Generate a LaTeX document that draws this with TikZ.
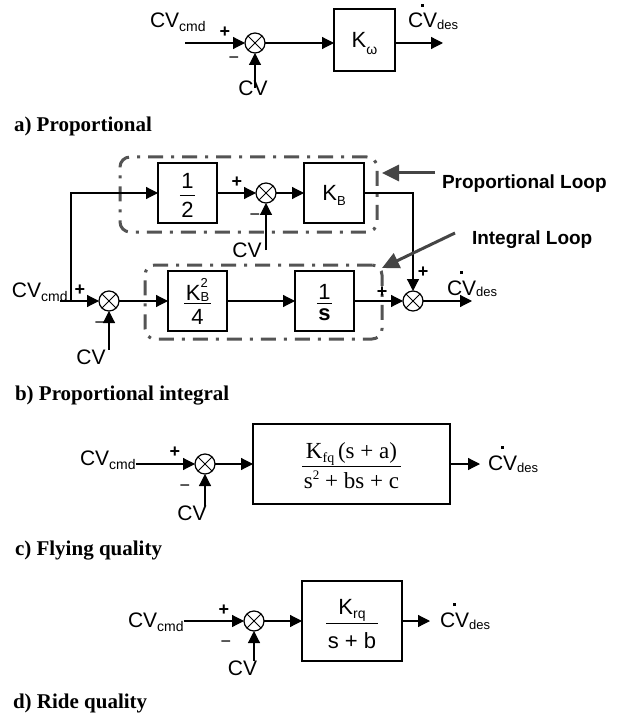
\documentclass[tikz,border=0pt]{standalone}
\usepackage{fontspec}
\setmainfont{Liberation Sans}
\newfontfamily\tserif{Liberation Serif}
\usetikzlibrary{arrows.meta,calc}
\definecolor{loopgray}{gray}{0.33}
\definecolor{notegray}{gray}{0.27}
\newcommand\fs[1]{\fontsize{#1}{#1}\selectfont}
\newcommand\subt[3]{\raisebox{-#1}[0pt][0pt]{\fs{#2}#3}}
\newcommand\cvdot{\setbox0\hbox{CV}\rlap{\hbox to\wd0{\hss\raisebox{21pt}[0pt][0pt]{\rule{2.8pt}{2.8pt}}\hss}}\box0}
\newcommand\fr[4]{\begingroup
 \setbox0\hbox{#3}\setbox2\hbox{#4}%
 \dimen0=\wd0 \ifdim\wd2>\dimen0 \dimen0=\wd2 \fi
 \advance\dimen0 by 3pt
 \dp0=0pt
 \dimen2=\dimexpr\ht0+#1+0.6pt\relax
 \dimen4=\dimexpr\ht2+\dp2+#2+0.6pt\relax
 \dimen6=\dimen2 \ifdim\dimen4>\dimen6 \dimen6=\dimen4 \fi
 \advance\dimen6 by 4pt
 \vbox{\kern\dimexpr\dimen6-\dimen2+2.5pt\relax
  \hbox to\dimen0{\hss\box0\hss}\kern#1\relax\hrule height 1.2pt\kern#2\relax
  \hbox to\dimen0{\hss\box2\hss}\kern\dimexpr\dimen6-\dimen4-2.5pt\relax}%
 \endgroup}
\begin{document}
\begin{tikzpicture}[x=1pt,y=-1pt,
 every node/.style={inner sep=0pt,outer sep=0pt},
 lbl/.style={font=\fs{21}},
 arr/.style={line width=1.2pt,-{Triangle[length=12pt,width=12pt]}},
 sumn/.style={circle,draw,line width=1.2pt,minimum size=20pt,
   path picture={\draw[line width=1pt] (path picture bounding box.south west) -- (path picture bounding box.north east) (path picture bounding box.north west) -- (path picture bounding box.south east);}},
 blk/.style={draw,line width=1.3pt,font=\fs{22}},
 loopbox/.style={draw=loopgray,line width=3pt,rounded corners=10pt,dash pattern=on 15pt off 8pt on 3pt off 8pt},
 note/.style={draw=notegray,line width=3pt,-{Triangle[length=17pt,width=16pt]}},
 plus/.style={font=\fs{18}\bfseries},
 minus/.style={font=\fs{18}},
 title/.style={anchor=base west,font=\tserif\bfseries\fs{21}},
 notetxt/.style={anchor=west,font=\bfseries\fs{19}}]
\path[fill=white,use as bounding box] (0,0) rectangle (639,719);

% ---------- a) Proportional
\node[lbl,anchor=base west] (cmdA) at (150,28) {CV\subt{4pt}{14}{cmd}};
\coordinate (inA) at (185,43);
\node[sumn] (sA) at (255,43) {};
\node[plus] (pA) at (225,32) {+};
\node[minus] (mA) at (234,60) {−};
\node[lbl] (cvA) at (253,88) {CV};
\node[blk,minimum width=61pt,minimum height=62pt] (kw) at (364.5,40) {K\subt{7pt}{14}{ω}};
\coordinate (outA) at (443,43);
\node[lbl,anchor=base west] (desA) at (408,28) {\cvdot\subt{2pt}{13}{des}};
\draw[arr] (inA) -- (sA);
\draw[arr] (sA.south |- cvA.center) -- (sA.south);
\draw[arr] (sA) -- (sA -| kw.west);
\draw[arr] (kw.east |- sA) -- (outA);
\node[title] (ta) at (14,132) {a) Proportional};

% ---------- b) Proportional integral
\node[loopbox,minimum width=257pt,minimum height=75pt] (ploop) at (248.5,194.5) {};
\node[loopbox,minimum width=237pt,minimum height=74pt] (iloop) at (263.5,302) {};
\node[lbl,anchor=base west] (cmdB) at (12,297) {CV\subt{4pt}{14}{cmd}};
\coordinate (inB) at (60,301);
\coordinate (split) at (71,301);
\node[sumn] (sB2) at (109,301) {};
\node[plus] (pB2) at (80,290) {+};
\node[minus] (mB2) at (100,325) {−};
\node[lbl] (cvB2) at (91,357) {CV};
\node[blk,minimum width=59pt,minimum height=60pt] (half) at (187.5,193) {\fr{6pt}{6pt}{1}{2}};
\node[sumn] (sB1) at (266,193) {};
\node[plus] (pB1) at (237,182) {+};
\node[minus] (mB1) at (255,217) {−};
\node[lbl] (cvB1) at (247,250) {CV};
\node[blk,minimum width=60pt,minimum height=60pt] (kb) at (334,193) {K\subt{5pt}{13}{B}};
\node[blk,minimum width=59pt,minimum height=60pt] (k2) at (197.5,301) {\fr{2pt}{5pt}{K\rlap{\raisebox{13pt}{\fs{13}2}}\subt{1pt}{13}{B}}{4}};
\node[blk,minimum width=59pt,minimum height=60pt] (inv) at (324.5,301) {\fr{3.5pt}{4.5pt}{1}{\bfseries s}};
\node[sumn] (sB3) at (413,301) {};
\node[plus] (pB3a) at (423,272) {+};
\node[plus] (pB3b) at (382,292) {+};
\coordinate (outB) at (472,301);
\node[lbl,anchor=base west] (desB) at (447,295) {\cvdot\subt{1pt}{13}{des}};
\node[notetxt] (ptxt) at (442,184) {Proportional Loop};
\node[notetxt] (itxt) at (472,240) {Integral Loop};
\coordinate (ptail) at (435,173);
\coordinate (ptip) at (382,173);
\coordinate (itail) at (455,233);
\coordinate (itip) at (382,268);
\draw[arr] (inB) -- (sB2);
\draw[arr] (split) |- (half.west);
\draw[arr] (half) -- (sB1);
\draw[arr] (sB1) -- (kb);
\draw[arr] (sB1.south |- cvB1.center) -- (sB1.south);
\draw[arr] (sB2.south |- cvB2.north) -- (sB2.south);
\draw[arr] (sB2) -- (k2);
\draw[arr] (k2) -- (inv);
\draw[arr] (inv) -- (sB3);
\draw[arr] (kb.east) -| (sB3.north);
\draw[arr] (sB3) -- (outB);
\draw[note] (ptail) -- (ptip);
\draw[note] (itail) -- (itip);
\node[title] (tb) at (15,400) {b) Proportional integral};

% ---------- c) Flying quality
\node[lbl,anchor=base west] (cmdC) at (80,465) {CV\subt{4pt}{14}{cmd}};
\node[sumn] (sC) at (205,464) {};
\node[plus] (pC) at (175,452) {+};
\node[minus] (mC) at (185,488) {−};
\node[lbl] (cvC) at (192,513) {CV};
\node[blk,minimum width=197pt,minimum height=80pt] (fq) at (351.5,464) {\fr{7pt}{4pt}{\tserif\fs{23}K\subt{4pt}{14}{fq}\,(s + a)}{\tserif\fs{23}s\raisebox{9pt}{\fs{13}2} + bs + c}};
\coordinate (outC) at (480,464);
\node[lbl,anchor=base west] (desC) at (488,470) {\cvdot\subt{2pt}{13}{des}};
\draw[arr] (cmdC.east |- sC) -- (sC);
\draw[arr] (sC.south |- cvC.north) -- (sC.south);
\draw[arr] (sC) -- (fq);
\draw[arr] (fq) -- (outC);
\node[title] (tc) at (15,555) {c) Flying quality};

% ---------- d) Ride quality
\node[lbl,anchor=base west] (cmdD) at (128,627) {CV\subt{4pt}{14}{cmd}};
\node[sumn] (sD) at (254,621) {};
\node[plus] (pD) at (224,610) {+};
\node[minus] (mD) at (226,644) {−};
\node[lbl] (cvD) at (242.5,668) {CV};
\node[blk,minimum width=100pt,minimum height=80pt] (rq) at (352,621) {\fr{8pt}{8pt}{K\subt{4pt}{14}{rq}}{s + b}};
\coordinate (outD) at (430,621);
\node[lbl,anchor=base west] (desD) at (440,627) {\cvdot\subt{2pt}{13}{des}};
\draw[arr] (cmdD.east |- sD) -- (sD);
\draw[arr] (sD.south |- cvD.north) -- (sD.south);
\draw[arr] (sD) -- (rq);
\draw[arr] (rq) -- (outD);
\node[title] (td) at (13,708) {d) Ride quality};
\end{tikzpicture}
\end{document}
